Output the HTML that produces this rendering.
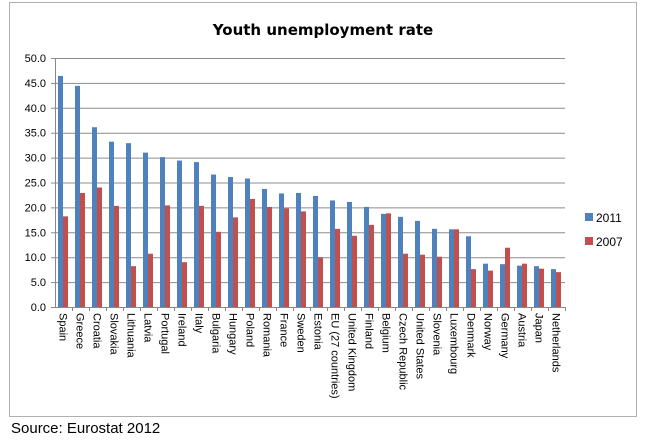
<!DOCTYPE html>
<html><head><meta charset="utf-8"><style>
body{margin:0;background:#fff;font-family:"Liberation Sans",sans-serif}
</style></head><body>
<svg width="651" height="438" id="svg" xmlns="http://www.w3.org/2000/svg">
<rect x="9.5" y="2.5" width="627" height="414" fill="#fff" stroke="#b0b0b0"/>
<text x="323" y="35" text-anchor="middle" font-size="15" font-weight="bold" font-family="DejaVu Sans, sans-serif">Youth unemployment rate</text>
<g id="grid"></g><g id="bars"></g><g id="labels"></g>
<rect x="585" y="213" width="8" height="8" fill="#4f81bd"/>
<text x="596" y="222" font-size="12">2011</text>
<rect x="585" y="237" width="8" height="8" fill="#c0504d"/>
<text x="596" y="246" font-size="12">2007</text>
<text x="11" y="433" font-size="15">Source: Eurostat 2012</text>
</svg>
<script>
const categories=["Spain","Greece","Croatia","Slovakia","Lithuania","Latvia","Portugal","Ireland","Italy","Bulgaria","Hungary","Poland","Romania","France","Sweden","Estonia","EU (27 countries)","United Kingdom","Finland","Belgium","Czech Republic","United States","Slovenia","Luxembourg","Denmark","Norway","Germany","Austria","Japan","Netherlands"];
const values2011=[46.4,44.4,36.1,33.2,32.9,31.0,30.1,29.4,29.1,26.6,26.1,25.8,23.7,22.8,22.9,22.3,21.4,21.1,20.1,18.7,18.1,17.3,15.7,15.6,14.2,8.7,8.6,8.3,8.2,7.6];
const values2007=[18.2,22.9,24.0,20.3,8.2,10.7,20.4,9.0,20.3,15.1,18.0,21.7,20.1,19.8,19.2,10.0,15.7,14.3,16.5,18.8,10.7,10.5,10.1,15.6,7.6,7.3,11.9,8.7,7.7,7.0];
const yTicks=[0,5,10,15,20,25,30,35,40,45,50];
const NS="http://www.w3.org/2000/svg";
const X0=55,X1=565,Y0=307,Y1=58,YMAX=50;
const bw=(X1-X0)/categories.length;
const y=v=>Y0-(v/YMAX)*(Y0-Y1);
const xc=i=>X0+i*bw;
function mk(t,a,p){const e=document.createElementNS(NS,t);for(const k in a)e.setAttribute(k,a[k]);p.appendChild(e);return e;}
const grid=document.getElementById('grid'),bars=document.getElementById('bars'),labels=document.getElementById('labels');
yTicks.forEach(t=>{
 const l=mk('line',{x1:X0-4,x2:X1,y1:y(t)+.5,y2:y(t)+.5,stroke:t===0?'#888':'#8c8c8c','stroke-width':1},grid);
 
 
 const tx=mk('text',{x:X0-9,y:y(t)+4,'text-anchor':'end','font-size':11},grid);
 tx.textContent=t.toFixed(1);
 
 
});
mk('line',{x1:X0+.5,x2:X0+.5,y1:Y1,y2:Y0,stroke:'#888'},grid);
categories.forEach((c,i)=>{
 const b1=mk('rect',{x:xc(i)+3,y:y(values2011[i]),width:5,height:Y0-y(values2011[i]),fill:'#4f81bd'},bars);
 
 
 const b2=mk('rect',{x:xc(i)+8,y:y(values2007[i]),width:5,height:Y0-y(values2007[i]),fill:'#c0504d'},bars);
 
 
 mk('line',{x1:xc(i+1)+.5,x2:xc(i+1)+.5,y1:Y0,y2:Y0+4,stroke:'#888'},grid);
 const tx=mk('text',{transform:`translate(${xc(i)+bw/2-4},${Y0+6}) rotate(90)`,'font-size':11},labels);
 tx.textContent=c;
 
 
});
</script>
</body></html>
